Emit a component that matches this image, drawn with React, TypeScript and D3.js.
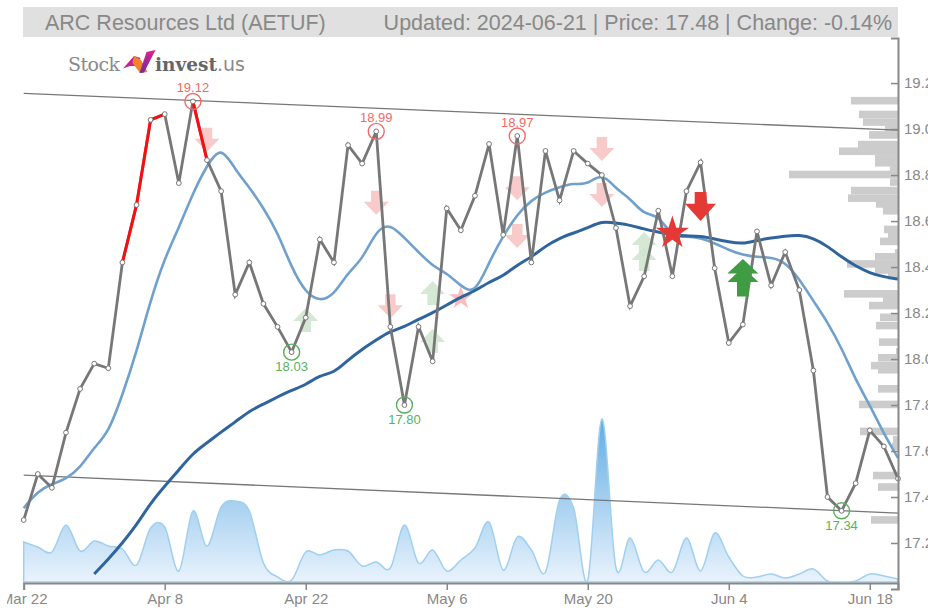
import React, { useEffect, useRef } from 'react';
import * as d3 from 'd3';

const days = [
  'Mar 22', 'Mar 25', 'Mar 26', 'Mar 27', 'Mar 28', 'Apr 1', 'Apr 2', 'Apr 3', 'Apr 4', 'Apr 5',
  'Apr 8', 'Apr 9', 'Apr 10', 'Apr 11', 'Apr 12', 'Apr 15', 'Apr 16', 'Apr 17', 'Apr 18', 'Apr 19',
  'Apr 22', 'Apr 23', 'Apr 24', 'Apr 25', 'Apr 26', 'Apr 29', 'Apr 30', 'May 1', 'May 2', 'May 3',
  'May 6', 'May 7', 'May 8', 'May 9', 'May 10', 'May 13', 'May 14', 'May 15', 'May 16', 'May 17',
  'May 20', 'May 21', 'May 22', 'May 23', 'May 24', 'May 28', 'May 29', 'May 30', 'May 31', 'Jun 3',
  'Jun 4', 'Jun 5', 'Jun 6', 'Jun 7', 'Jun 10', 'Jun 11', 'Jun 12', 'Jun 13', 'Jun 14', 'Jun 17',
  'Jun 18', 'Jun 20', 'Jun 21',
];
const tickDays = ['Mar 22', 'Apr 8', 'Apr 22', 'May 6', 'May 20', 'Jun 4', 'Jun 18'];
const priceTicks = [17.2, 17.4, 17.6, 17.8, 18.0, 18.2, 18.4, 18.6, 18.8, 19.0, 19.2];

const closes = [
  17.3, 17.5, 17.44, 17.68, 17.87, 17.98, 17.96, 18.42, 18.67, 19.04,
  19.065, 18.765, 19.12, 18.865, 18.73, 18.28, 18.42, 18.24, 18.14, 18.03,
  18.18, 18.52, 18.42, 18.93, 18.85, 18.99, 18.14, 17.8, 18.14, 17.99,
  18.655, 18.56, 18.71, 18.935, 18.54, 18.97, 18.42, 18.905, 18.69, 18.905,
  18.85, 18.8, 18.57, 18.23, 18.36, 18.645, 18.36, 18.73, 18.855, 18.395,
  18.07, 18.15, 18.555, 18.32, 18.465, 18.3, 17.95, 17.4, 17.34, 17.46,
  17.69, 17.62, 17.48,
];
const shortAvg = [
  17.352, 17.426, 17.457, 17.478, 17.526, 17.617, 17.678, 17.843, 18.03, 18.257,
  18.439, 18.57, 18.722, 18.843, 18.93, 18.822, 18.748, 18.657, 18.552, 18.396,
  18.287, 18.25, 18.278, 18.378, 18.43, 18.561, 18.59, 18.526, 18.465, 18.404,
  18.374, 18.317, 18.28, 18.422, 18.535, 18.63, 18.691, 18.726, 18.748, 18.765,
  18.757, 18.813, 18.739, 18.7, 18.625, 18.63, 18.526, 18.535, 18.526, 18.504,
  18.474, 18.452, 18.443, 18.443, 18.422, 18.348, 18.252, 18.161, 18.048, 17.909,
  17.8, 17.674, 17.57,
];
// long average only starts on Apr 1
const longAvgStart = 5;
const longAvg = [
  17.065, 17.13, 17.2, 17.278, 17.374, 17.448, 17.517, 17.591, 17.635, 17.683,
  17.726, 17.774, 17.804, 17.835, 17.865, 17.887, 17.93, 17.939, 17.996, 18.043,
  18.083, 18.122, 18.139, 18.174, 18.2, 18.235, 18.27, 18.296, 18.335, 18.361,
  18.409, 18.443, 18.491, 18.526, 18.548, 18.57, 18.6, 18.591, 18.583, 18.565,
  18.552, 18.539, 18.535, 18.535, 18.522, 18.509, 18.5, 18.517, 18.526, 18.535,
  18.54, 18.526, 18.491, 18.443, 18.404, 18.374, 18.357, 18.348,
];
const volumes = [
  40, 35, 30, 57, 31, 41, 36, 33, 17, 54,
  55, 11, 71, 36, 75, 81, 71, 19, 5, 2,
  30, 27, 32, 31, 16, 20, 14, 57, 19, 32,
  11, 22, 34, 60, 12, 45, 32, 10, 82, 74,
  2, 163, 14, 44, 10, 22, 10, 44, 11, 49,
  25, 6, 5, 8, 4, 8, 13, 1, 0, 1,
  8, 6, 3,
];

// stretches of the close line drawn red: [from, to] as day positions
const redStretches = [[7, 10], [12, 13]];

const highs = [12, 25, 35];
const lows = [19, 27, 58];

const channelTop = [19.155, 18.995];
const channelBottom = [17.495, 17.33];

const profileLevels = [
  19.14, 19.08, 19.047, 19.022, 18.991, 18.949, 18.92, 18.887, 18.87, 18.843,
  18.819, 18.786, 18.749, 18.716, 18.691, 18.661, 18.58, 18.557, 18.528, 18.478,
  18.461, 18.43, 18.404, 18.378, 18.3, 18.274, 18.249, 18.198, 18.162, 18.09,
  18.048, 18.022, 17.988, 17.97, 17.887, 17.819, 17.702, 17.665, 17.636, 17.51,
  17.46, 17.317,
];
const profileVolumes = [
  47, 39, 35, 13, 29, 40, 59, 23, 23, 8,
  109, 8, 47, 50, 22, 15, 14, 10, 18, 3,
  23, 51, 23, 10, 54, 15, 29, 18, 22, 19,
  2, 20, 27, 20, 20, 39, 38, 5, 6, 25,
  20, 27,
];

const paleDown = [[13, 18.954], [25, 18.68], [35, 18.743], [35, 18.535], [41, 18.913], [41, 18.713], [26, 18.23]];
const paleUp = [[20, 18.17], [29, 18.287], [29, 18.078], [44, 18.5], [44, 18.435]];
const paleStar = [[31, 18.265]];
const strongDown = [[48, 18.663]];
const strongUp = [[51, 18.372], [51, 18.335]];
const strongStar = [[46, 18.548]];

const font = '"Liberation Sans", Arial, sans-serif';
const width = 928;
const height = 608;

const x = d3.scalePoint<string>().domain(days).range([23.7, 898]);
const y = d3.scaleLinear().domain([17, 19.396]).range([589, 38]);
const yVol = d3.scaleLinear().domain([0, 163]).range([582, 419]);
const xProfile = d3.scaleLinear().domain([0, 109]).range([898, 789]);

const xAt = (i: number) => x(days[i]) as number;

function arrowPath(w: number, h: number, dir: 1 | -1, headShare = 0.54, shaftShare = 0.42) {
  // dir 1 points up, -1 points down
  const t = (-h / 2) * dir;
  const b = (h / 2) * dir;
  const n = t + h * headShare * dir;
  const s = (w * shaftShare) / 2;
  return `M0,${t}L${w / 2},${n}L${s},${n}L${s},${b}L${-s},${b}L${-s},${n}L${-w / 2},${n}Z`;
}

const priceLine = d3.line<number>().x((_, i) => xAt(i)).y(d => y(d));
const avgLine = d3.line<number>().x((_, i) => xAt(i)).y(d => y(d)).curve(d3.curveBasis);
const longLine = d3.line<number>().x((_, i) => xAt(i + longAvgStart)).y(d => y(d)).curve(d3.curveBasis);
const volArea = d3.area<number>().x((_, i) => xAt(i)).y0(yVol(0)).y1(d => yVol(d)).curve(d3.curveCardinal);
const starPale = d3.symbol().type(d3.symbolStar).size(170)();
const starStrong = d3.symbol().type(d3.symbolStar).size(340)();

export default function App() {
  const xAxisRef = useRef<SVGGElement>(null);
  const yAxisRef = useRef<SVGGElement>(null);

  useEffect(() => {
    const xg = d3.select(xAxisRef.current!);
    xg.selectAll('*').remove();
    xg.call(d3.axisBottom(x).tickValues(tickDays).tickSize(7).tickPadding(3) as any);
    xg.select('.domain').attr('stroke', '#888').attr('stroke-width', 2);
    xg.selectAll('.tick line').attr('stroke', '#888').attr('stroke-width', 1.5);
    xg.selectAll('.tick text')
      .attr('fill', '#888')
      .attr('font-size', 15)
      .attr('font-family', font);

    const yg = d3.select(yAxisRef.current!);
    yg.selectAll('*').remove();
    yg.call(d3.axisLeft(y).tickValues(priceTicks).tickSize(7).tickFormat(d3.format('.1f') as any) as any);
    yg.select('.domain').attr('stroke', '#888').attr('stroke-width', 2);
    yg.selectAll('.tick line').attr('stroke', '#888').attr('stroke-width', 1.5);
    yg.selectAll('.tick text')
      .attr('x', 6)
      .attr('text-anchor', 'start')
      .attr('fill', '#888')
      .attr('font-size', 15)
      .attr('font-family', font);
  }, []);

  return (
    <svg
      width={width}
      height={height}
      style={{ position: 'absolute', left: 0, top: 0, background: '#fff' }}
    >
      <defs>
        <linearGradient id="volFill" gradientUnits="userSpaceOnUse" x1="0" x2="0" y1={yVol(163)} y2={yVol(0)}>
          <stop offset="0%" stopColor="#62ace3" />
          <stop offset="100%" stopColor="#e9f3fc" />
        </linearGradient>
        <linearGradient id="logoTick" x1="0" x2="0" y1="0" y2="1">
          <stop offset="0%" stopColor="#e0218a" />
          <stop offset="100%" stopColor="#6b2c9e" />
        </linearGradient>
        <clipPath id="leftEdge">
          <rect x={7} y={0} width={width - 7} height={height} />
        </clipPath>
      </defs>

      {/* Header */}
      <rect x={23} y={7} width={875} height={30} fill="#e0e0e0" />
      <text x={45} y={30} fontFamily={font} fontSize={21.5} fill="#888">ARC Resources Ltd (AETUF)</text>
      <text x={892} y={30} textAnchor="end" fontFamily={font} fontSize={21.5} fill="#888">
        Updated: 2024-06-21 | Price: 17.48 | Change: -0.14%
      </text>

      {/* Logo */}
      <g>
        <text x={68} y={71} fontFamily='"DejaVu Serif", serif' fontSize={19} fill="#8a8a8a" textLength={52}>Stock</text>
        <path d="M123,68.5L134,56L140.5,58L136,66L130,66Z" fill="#c2278f" />
        <path d="M134,56L141,60L147.5,72L140,73L132.5,63Z" fill="#f4822a" />
        <path d="M146.5,52L155.5,50L144,72.5L139.5,73Z" fill="url(#logoTick)" />
        <text x={155} y={71} fontFamily='"DejaVu Serif", serif' fontWeight="bold" fontSize={18.5} fill="#666" textLength={62}>invest</text>
        <text x={217} y={71} fontFamily='"DejaVu Sans", sans-serif' fontSize={19} fill="#8a8a8a" textLength={28}>.us</text>
      </g>

      {/* Volume */}
      <path d={volArea(volumes) as string} fill="url(#volFill)" stroke="#9fd0f0" strokeWidth={1.5} />

      {/* Volume by price */}
      {profileLevels.map((level, i) => (
        <rect
          key={i}
          x={xProfile(profileVolumes[i])}
          y={y(level)}
          width={xProfile(0) - xProfile(profileVolumes[i])}
          height={7.6}
          fill="#cccccc"
        />
      ))}

      {/* Weak signals */}
      {paleDown.map(([d, p], i) => (
        <path key={i} transform={`translate(${xAt(d)},${y(p)})`} d={arrowPath(25, 24, -1)} fill="#f8caca" />
      ))}
      {paleUp.map(([d, p], i) => (
        <path key={i} transform={`translate(${xAt(d)},${y(p)})`} d={arrowPath(25, 24, 1)} fill="#cfe6cf" opacity={0.9} />
      ))}
      {paleStar.map(([d, p], i) => (
        <path key={i} transform={`translate(${xAt(d)},${y(p)})`} d={starPale as string} fill="#f8bcbc" />
      ))}

      {/* Channel */}
      <line x1={xAt(0)} x2={xAt(62)} y1={y(channelTop[0])} y2={y(channelTop[1])} stroke="#777" strokeWidth={1.3} />
      <line x1={xAt(0)} x2={xAt(62)} y1={y(channelBottom[0])} y2={y(channelBottom[1])} stroke="#777" strokeWidth={1.3} />

      {/* Averages */}
      <path d={avgLine(shortAvg) as string} fill="none" stroke="#70a1cc" strokeWidth={2.6} />
      <path d={longLine(longAvg) as string} fill="none" stroke="#2f659c" strokeWidth={3} />

      {/* Close */}
      <path d={priceLine(closes) as string} fill="none" stroke="#777" strokeWidth={2.8} />
      {redStretches.map(([a, b], i) => {
        const seg = d3.line<number>().x((_, k) => xAt(a + k)).y(d => y(d));
        return <path key={i} d={seg(closes.slice(a, b + 1)) as string} fill="none" stroke="#f50f0f" strokeWidth={3} />;
      })}
      {closes.map((c, i) => (
        <circle key={i} cx={xAt(i)} cy={y(c)} r={2.4} fill="#fff" stroke="#777" strokeWidth={1} />
      ))}

      {/* High and low marks */}
      {highs.map(i => (
        <g key={i} fontFamily={font} fontSize={13} fill="#f26a6a" textAnchor="middle">
          <circle cx={xAt(i)} cy={y(closes[i])} r={8} fill="none" stroke="#f26a6a" strokeWidth={1.4} />
          <text x={xAt(i)} y={y(closes[i]) - 9}>{closes[i].toFixed(2)}</text>
        </g>
      ))}
      {lows.map(i => (
        <g key={i} fontFamily={font} fontSize={13} fill="#58b15c" textAnchor="middle">
          <circle cx={xAt(i)} cy={y(closes[i])} r={8} fill="none" stroke="#58b15c" strokeWidth={1.4} />
          <text x={xAt(i)} y={y(closes[i]) + 19}>{closes[i].toFixed(2)}</text>
        </g>
      ))}

      {/* Strong signals */}
      {strongDown.map(([d, p], i) => (
        <path key={i} transform={`translate(${xAt(d)},${y(p)})`} d={arrowPath(31, 29, -1, 0.6, 0.38)} fill="#e53935" />
      ))}
      {strongUp.map(([d, p], i) => (
        <path key={i} transform={`translate(${xAt(d)},${y(p)})`} d={arrowPath(31, 29, 1, 0.5, 0.38)} fill="#3f9c43" />
      ))}
      {strongStar.map(([d, p], i) => (
        <path key={i} transform={`translate(${xAt(d)},${y(p)})`} d={starStrong as string} fill="#e53935" />
      ))}

      {/* Axes */}
      <g clipPath="url(#leftEdge)">
        <g ref={xAxisRef} transform={`translate(0,${yVol(0) + 1})`} />
      </g>
      <g ref={yAxisRef} transform={`translate(${xAt(62)},0)`} />
    </svg>
  );
}
